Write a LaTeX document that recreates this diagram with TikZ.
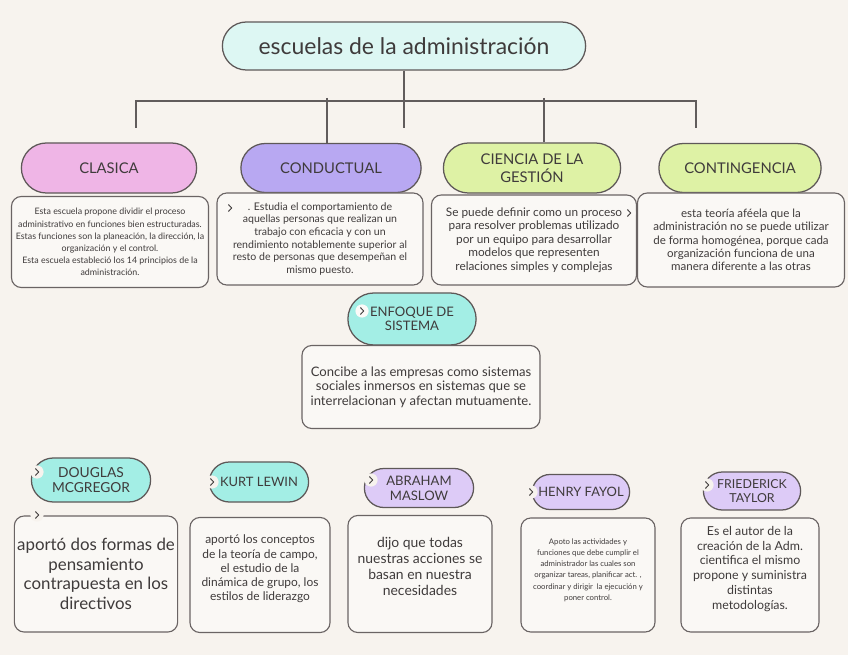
\documentclass[tikz,border=0pt]{standalone}
\usepackage{fontspec}
\setmainfont{Lato}
\usetikzlibrary{positioning,shapes.misc}
\definecolor{bgcol}{HTML}{F7F3EE}
\definecolor{boxfill}{HTML}{FAF8F5}
\definecolor{boxline}{HTML}{6A6464}
\definecolor{pillline}{HTML}{5E5858}
\definecolor{linecol}{HTML}{615C5C}
\definecolor{txtcol}{HTML}{3F3B3B}
\definecolor{titlefill}{HTML}{DDF7F3}
\definecolor{pinkfill}{HTML}{EFB5E6}
\definecolor{purplefill}{HTML}{B8A8F2}
\definecolor{greenfill}{HTML}{DEF2A5}
\definecolor{tealfill}{HTML}{A3EEE5}
\definecolor{lavfill}{HTML}{DDCBF7}
\newcommand{\setfs}[2]{\fontsize{#1}{#2}\selectfont}
\tikzset{
 pill/.style={draw=pillline,line width=0.9pt,rounded rectangle,align=center,
             text=txtcol,inner sep=1pt},
 descbox/.style={draw=boxline,line width=0.8pt,fill=boxfill,rounded corners=7pt,
             align=center,text=txtcol,inner sep=2pt},
 chev/.style={circle,fill=bgcol,minimum size=0.33cm,inner sep=0pt,
             path picture={\draw[txtcol,line width=0.7pt,line cap=round,line join=round]
               ([xshift=-1.1pt,yshift=2.4pt]path picture bounding box.center)
               -- ++(2.3pt,-2.4pt) -- ++(-2.3pt,-2.4pt);}},
 link/.style={draw=linecol,line width=0.8pt}
}

\begin{document}
\begin{tikzpicture}[x=0.025cm,y=-0.025cm]
\fill[bgcol] (0,0) rectangle (848,655);
\useasboundingbox (0,0) rectangle (848,655);
% title and the four schools
\node[pill,fill=titlefill,minimum width=9.15cm,minimum height=1.2cm,
      font=\setfs{16.3}{19}] (title) at (404,46) {escuelas de la administración};
\node[pill,fill=pinkfill,minimum width=4.45cm,minimum height=1.25cm,
      font=\setfs{10.5}{12.5}] (clasica) at (109,168) {CLASICA};
\node[pill,fill=purplefill,minimum width=4.575cm,minimum height=1.225cm,
      font=\setfs{10.5}{12.5}] (conductual) at (331,168) {CONDUCTUAL};
\node[pill,fill=greenfill,minimum width=4.5cm,minimum height=1.25cm,
      font=\setfs{10.5}{12.5}] (ciencia) at (532,168) {CIENCIA DE LA\\GESTIÓN};
\node[pill,fill=greenfill,minimum width=4.125cm,minimum height=1.225cm,
      font=\setfs{10.5}{12.5}] (contingencia) at (740,168) {CONTINGENCIA};

\coordinate (cend) at (404,128);
\coordinate (busl) at (136,101);
\coordinate (busr) at (696,101);
\coordinate (lend) at (136,128);
\coordinate (rend) at (696,128);
\coordinate (dropb) at (327,98);
\coordinate (dropc) at (544,98);
\draw[link] (title.south) -- (cend);
\draw[link] (lend) -- (busl) -- (busr) -- (rend);
\draw[link] (dropb) -- (dropb |- conductual.north);
\draw[link] (dropc) -- (dropc |- ciencia.north);

\node[descbox,minimum width=4.925cm,minimum height=2.275cm,
      font=\setfs{6.3}{8.6}] (clasicad) at (110,242)
  {Esta escuela propone dividir el proceso\\
   administrativo en funciones bien estructuradas.\\
   Estas funciones son la planeación, la dirección, la\\
   organización y el control.\\
   Esta escuela estableció los 14 principios de la\\
   administración.};
\node[descbox,minimum width=5.15cm,minimum height=2.3cm,
      font=\setfs{7.5}{9}] (conductuald) at (320,239)
  {. Estudia el comportamiento de\\
   aquellas personas que realizan un\\
   trabajo con eficacia y con un\\
   rendimiento notablemente superior al\\
   resto de personas que desempeñan el\\
   mismo puesto.};
\node[descbox,minimum width=5.125cm,minimum height=2.25cm,
      font=\setfs{8.4}{9.6}] (cienciad) at (534,240)
  {Se puede definir como un proceso\\
   para resolver problemas utilizado\\
   por un equipo para desarrollar\\
   modelos que representen\\
   relaciones simples y complejas};
\node[descbox,minimum width=5.175cm,minimum height=2.35cm,
      font=\setfs{8.2}{9.4}] (contingenciad) at (741,240)
  {esta teoría aféela que la\\
   administración no se puede utilizar\\
   de forma homogénea, porque cada\\
   organización funciona de una\\
   manera diferente a las otras};
\node[chev,fill=boxfill] (chevb) at (230,208) {};
\node[chev,fill=boxfill] (chevc) at (629,213) {};

% systems approach
\node[pill,fill=tealfill,minimum width=3.275cm,minimum height=1.3cm,
      font=\setfs{9.3}{10.3}] (enfoque) at (412,319) {ENFOQUE DE\\SISTEMA};
\node[descbox,minimum width=5.95cm,minimum height=2.075cm,
      font=\setfs{9.3}{10.3}] (enfoqued) at (421,387)
  {Concibe a las empresas como sistemas\\
   sociales inmersos en sistemas que se\\
   interrelacionan y afectan mutuamente.};
\node[chev,fill=white!60!bgcol] (chevd) at (362,311) {};

% authors
\node[pill,fill=tealfill,minimum width=3.05cm,minimum height=1.1cm,
      font=\setfs{9.8}{10.8}] (douglas) at (91,480) {DOUGLAS\\MCGREGOR};
\node[pill,fill=tealfill,minimum width=2.55cm,minimum height=1.0cm,
      font=\setfs{9.2}{11}] (kurt) at (259,482) {KURT LEWIN};
\node[pill,fill=lavfill,minimum width=2.8cm,minimum height=0.975cm,
      font=\setfs{9.3}{10.5}] (maslow) at (419,488) {ABRAHAM\\MASLOW};
\node[pill,fill=lavfill,minimum width=2.5cm,minimum height=0.875cm,
      font=\setfs{9.2}{11}] (fayol) at (581,492) {HENRY FAYOL};
\node[pill,fill=lavfill,minimum width=2.5cm,minimum height=0.95cm,
      font=\setfs{8.8}{10.3}] (taylor) at (752,491) {FRIEDERICK\\TAYLOR};

\node[descbox,minimum width=4.0cm,minimum height=2.9cm,
      font=\setfs{12}{14}] (douglasd) at (96,574)
  {aportó dos formas de\\pensamiento\\contrapuesta en los\\directivos};
\node[descbox,minimum width=3.5cm,minimum height=2.875cm,
      font=\setfs{8.5}{10.1}] (kurtd) at (260,575)
  {aportó los conceptos\\de la teoría de campo,\\el estudio de la\\
   dinámica de grupo, los\\estilos de liderazgo\\\rule{0pt}{4pt}};
\node[descbox,minimum width=3.6cm,minimum height=2.925cm,
      font=\setfs{9.9}{11.3}] (maslowd) at (420,574)
  {dijo que todas\\nuestras acciones se\\basan en nuestra\\necesidades\\
   \rule{0pt}{4pt}};
\node[descbox,minimum width=3.35cm,minimum height=2.85cm,
      font=\setfs{5.5}{8}] (fayold) at (588,575)
  {Apoto las actividades y\\funciones que debe cumplir el\\
   administrador las cuales son\\organizar tareas, planificar act. ,\\
   coordinar y dirigir~ la ejecución y\\poner control.\\\rule{0pt}{4pt}};
\node[descbox,minimum width=3.45cm,minimum height=2.85cm,
      font=\setfs{8.8}{10.5}] (taylord) at (750,575)
  {Es el autor de la\\creación de la Adm.\\cientifica el mismo\\
   propone y suministra\\distintas\\metodologías.\\\rule{0pt}{2pt}};

\node[chev] (cheve) at (37,472) {};
\node[chev] (chevf) at (37,515) {};
\node[chev] (chevg) at (212,482) {};
\node[chev] (chevh) at (371,480) {};
\node[chev] (cheva) at (531,492) {};
\node[chev] (chevi) at (707,485) {};
\end{tikzpicture}
\end{document}
